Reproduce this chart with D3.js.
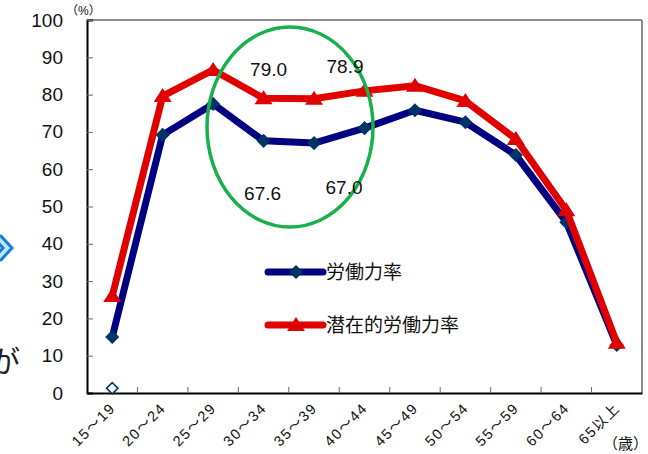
<!DOCTYPE html>
<html>
<head>
<meta charset="utf-8">
<script src="https://cdn.jsdelivr.net/npm/d3@7"></script>
<style>
  body { margin: 0; background: #fff; }
  text { font-family: "Liberation Sans", Arial, "Noto Sans CJK JP", sans-serif; }
</style>
</head>
<body>
<script>
// age groups
const ages = ["15～19", "20～24", "25～29", "30～34", "35～39", "40～44", "45～49", "50～54", "55～59", "60～64", "65以上"];
// 労働力率
const laborRate = [15.0, 69.2, 77.5, 67.6, 67.0, 71.0, 75.8, 72.6, 63.8, 45.8, 12.9];
// 潜在的労働力率
const potentialRate = [26.0, 79.6, 86.6, 79.0, 78.9, 81.0, 82.4, 78.3, 68.1, 49.0, 13.5];
// stray hollow marker at the first group
const strayPoint = [{ age: "15～19", v: 1.0 }];
const yTicks = [0, 10, 20, 30, 40, 50, 60, 70, 80, 90, 100];
const callouts = [
    { age: "30～34", v: 79.0, dx: 5, dy: -22 },
    { age: "35～39", v: 78.9, dx: 31, dy: -26 },
    { age: "30～34", v: 67.6, dx: -1, dy: 59 },
    { age: "35～39", v: 67.0, dx: 30, dy: 51 }
];

const W = 648, H = 454;
const m = { left: 87, right: 6, top: 20, bottom: 61 };

const svg = d3.select("body").append("svg")
    .attr("width", W)
    .attr("height", H);

const x = d3.scaleBand().domain(ages).range([m.left, W - m.right]);
const y = d3.scaleLinear().domain([0, 100]).range([H - m.bottom, m.top]);
const cx = d => x(d) + x.bandwidth() / 2;

// slide leftovers on the left edge
svg.append("path")
    .attr("d", "M-8,236 L1,236 L12,248 L1,260 L-8,260 L3,248 Z")
    .attr("fill", "#bfe6fb").attr("stroke", "#1a7fd0").attr("stroke-width", 3);
svg.append("text")
    .attr("x", -10).attr("y", 372)
    .attr("font-size", 30).attr("fill", "#222")
    .text("が");

// plot frame: top/right grey, left/bottom black
svg.append("line").attr("x1", m.left).attr("x2", W - m.right).attr("y1", m.top).attr("y2", m.top)
    .attr("stroke", "#8c8c8c").attr("stroke-width", 2);
svg.append("line").attr("x1", W - m.right).attr("x2", W - m.right).attr("y1", m.top).attr("y2", H - m.bottom)
    .attr("stroke", "#8c8c8c").attr("stroke-width", 2);

// y axis
const yAxis = svg.append("g")
    .attr("transform", `translate(${m.left},0)`)
    .call(d3.axisLeft(y).tickValues(yTicks).tickSize(-6).tickPadding(24));
yAxis.select(".domain").attr("stroke", "#000").attr("stroke-width", 2);
yAxis.selectAll(".tick line").attr("stroke", "#666");
yAxis.selectAll("text").attr("font-size", 19).attr("fill", "#111");

// x axis, ticks at band edges
const xAxis = svg.append("g")
    .attr("transform", `translate(0,${H - m.bottom})`)
    .call(d3.axisBottom(x).tickSize(0).tickFormat(""));
xAxis.select(".domain").attr("stroke", "#000").attr("stroke-width", 2);
xAxis.selectAll(".edge").data(ages.slice(1))
    .enter().append("line")
    .attr("x1", d => x(d)).attr("x2", d => x(d))
    .attr("y1", 0).attr("y2", -6)
    .attr("stroke", "#666");

svg.append("g").selectAll("text").data(ages)
    .enter().append("text")
    .attr("transform", d => `translate(${cx(d) + 4},${H - m.bottom + 16}) rotate(-45)`)
    .attr("text-anchor", "end")
    .attr("font-size", 14.5)
    .attr("letter-spacing", 1.5)
    .attr("fill", "#111")
    .text(d => d);

svg.append("text").attr("x", 66).attr("y", 15).attr("font-size", 12).attr("fill", "#111").text("（%）");
svg.append("text").attr("x", 603).attr("y", 449).attr("font-size", 15).attr("fill", "#111").text("（歳）");

const line = d3.line().x((d, i) => cx(ages[i])).y(d => y(d));

// 労働力率
svg.append("path").datum(laborRate)
    .attr("d", line).attr("fill", "none")
    .attr("stroke", "#000080").attr("stroke-width", 7).attr("stroke-linejoin", "round");
svg.append("g").selectAll("path").data(laborRate)
    .enter().append("path")
    .attr("transform", (d, i) => `translate(${cx(ages[i])},${y(d)}) rotate(45)`)
    .attr("d", "M-5,-5H5V5H-5Z")
    .attr("fill", "#003366");

// 潜在的労働力率
svg.append("path").datum(potentialRate)
    .attr("d", line).attr("fill", "none")
    .attr("stroke", "#e00000").attr("stroke-width", 7).attr("stroke-linejoin", "round");
svg.append("g").selectAll("path").data(potentialRate)
    .enter().append("path")
    .attr("transform", (d, i) => `translate(${cx(ages[i])},${y(d)})`)
    .attr("d", "M0,-8L9,6H-9Z")
    .attr("fill", "#e00000");

svg.append("g").selectAll("path").data(strayPoint)
    .enter().append("path")
    .attr("transform", d => `translate(${cx(d.age)},${y(d.v) - 1}) rotate(45)`)
    .attr("d", "M-4,-4H4V4H-4Z")
    .attr("fill", "#fff").attr("stroke", "#003366").attr("stroke-width", 1.6);

// green circle around the dip
svg.append("ellipse")
    .attr("cx", 290).attr("cy", 127).attr("rx", 83).attr("ry", 100)
    .attr("fill", "none").attr("stroke", "#17b04b").attr("stroke-width", 3.5);

svg.append("g").selectAll("text").data(callouts)
    .enter().append("text")
    .attr("x", d => cx(d.age) + d.dx)
    .attr("y", d => y(d.v) + d.dy)
    .attr("text-anchor", "middle")
    .attr("font-size", 19)
    .attr("fill", "#111")
    .text(d => d.v.toFixed(1));

// legend
const legend = [
    { name: "労働力率", color: "#000080", mark: "#003366", shape: "M-5,-5H5V5H-5Z", rot: 45 },
    { name: "潜在的労働力率", color: "#e00000", mark: "#e00000", shape: "M0,-8L9,6H-9Z", rot: 0 }
];
const lg = svg.append("g").selectAll("g").data(legend)
    .enter().append("g")
    .attr("transform", (d, i) => `translate(268,${272 + i * 53})`);
lg.append("line").attr("x1", 0).attr("x2", 55)
    .attr("stroke", d => d.color).attr("stroke-width", 7).attr("stroke-linecap", "round");
lg.append("path")
    .attr("transform", d => `translate(28,0) rotate(${d.rot})`)
    .attr("d", d => d.shape).attr("fill", d => d.mark);
lg.append("text").attr("x", 58).attr("y", 7)
    .attr("font-size", 19).attr("fill", "#111")
    .attr("font-family", "'Noto Sans CJK JP', sans-serif")
    .text(d => d.name);
</script>
</body>
</html>
